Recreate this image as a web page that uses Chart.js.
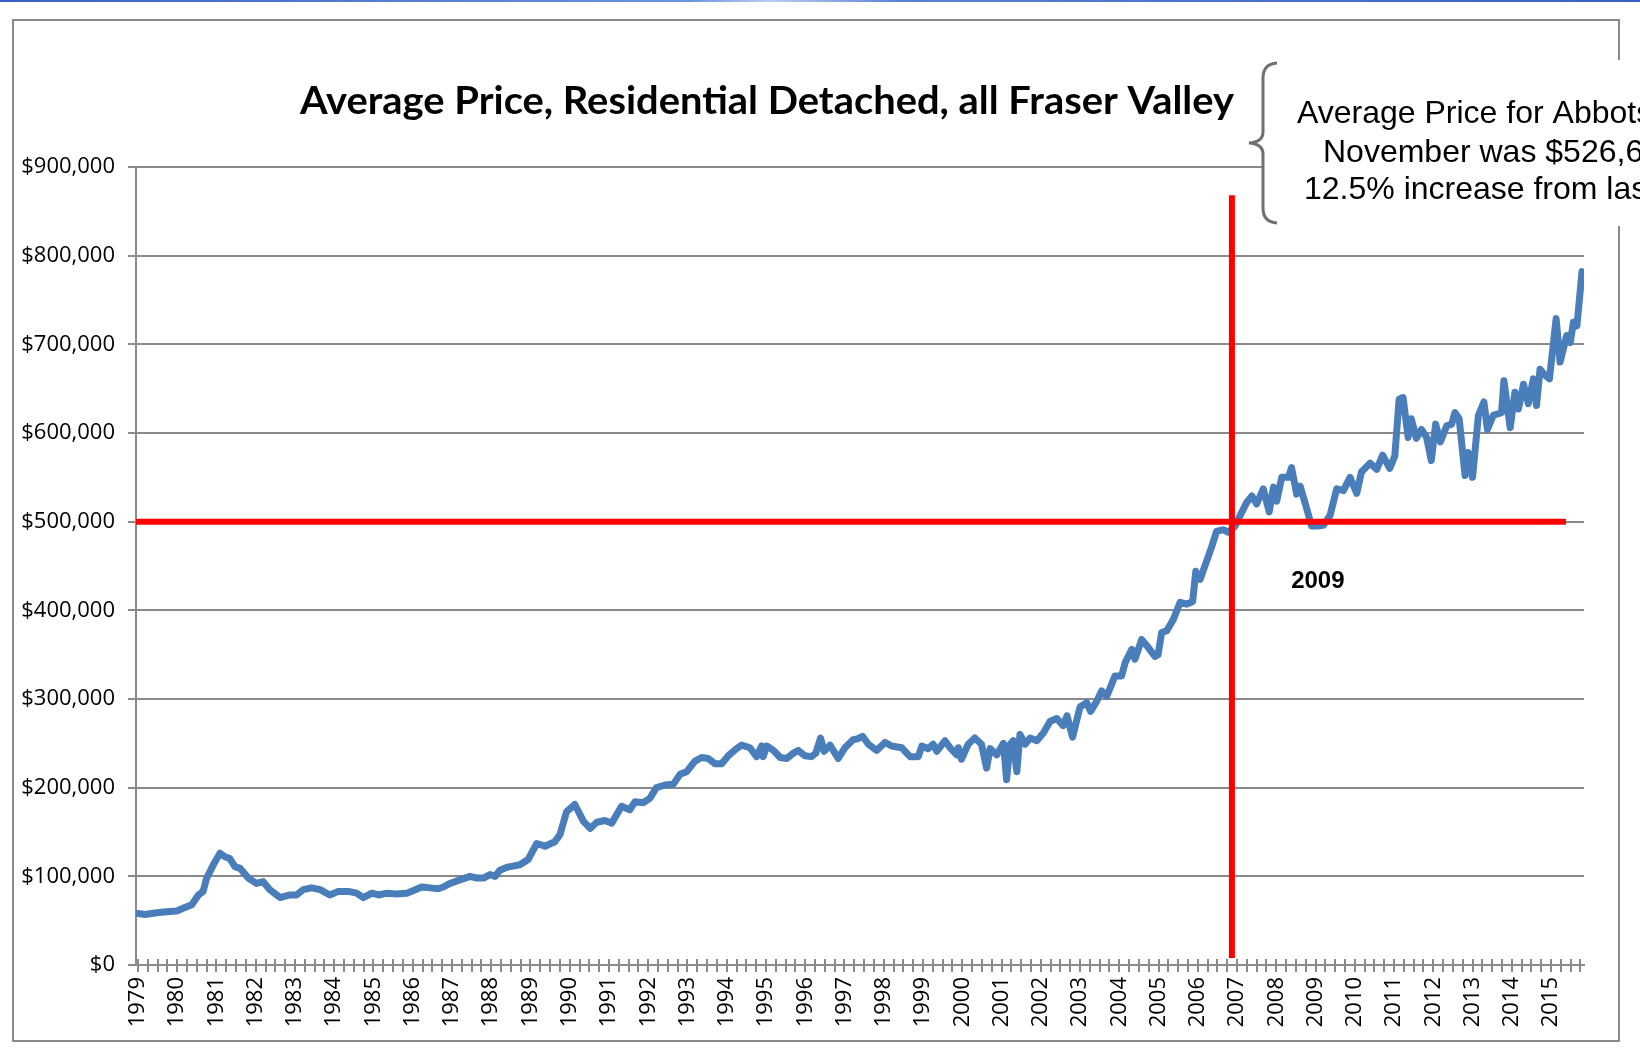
<!DOCTYPE html>
<html>
<head>
<meta charset="utf-8">
<script src="https://cdn.jsdelivr.net/npm/chart.js"></script>
<style>
html,body{margin:0;padding:0;background:#fff;}
#wrap{position:relative;width:1640px;height:1053px;}
</style>
</head>
<body>
<div id="wrap"><canvas id="chartPrice"></canvas></div>
<script>
// --- values (decimal year, price in $000) ---
const monthYear = [
  1979.00,1979.18,1979.48,1979.73,1979.99,1980.15,1980.37,1980.54,1980.66,1980.75,1980.92,
  1981.09,1981.22,1981.34,1981.47,1981.60,1981.81,1982.02,1982.19,1982.36,1982.62,1982.87,
  1983.04,1983.21,1983.42,1983.64,1983.89,1984.10,1984.36,1984.57,1984.74,1984.96,
  1985.13,1985.34,1985.59,1985.85,1986.02,1986.23,1986.44,1986.65,1986.78,1986.95,
  1987.20,1987.46,1987.63,1987.80,1987.97,1988.10,1988.22,1988.39,1988.48,1988.73,1988.94,
  1989.16,1989.37,1989.62,1989.75,1989.92,1990.13,1990.35,1990.52,1990.69,1990.90,
  1991.07,1991.32,1991.53,1991.66,1991.87,1992.04,1992.21,1992.43,1992.64,1992.81,1992.98,
  1993.19,1993.36,1993.53,1993.70,1993.87,1994.04,1994.25,1994.38,1994.59,1994.76,1994.89,1994.93,
  1995.02,1995.19,1995.36,1995.53,1995.70,1995.82,1995.99,1996.16,1996.27,1996.39,1996.48,1996.63,1996.84,
  1997.01,1997.22,1997.33,1997.46,1997.61,1997.82,1998.03,1998.20,1998.46,1998.67,1998.88,1998.97,
  1999.13,1999.26,1999.35,1999.56,1999.69,1999.86,1999.90,1999.98,2000.15,2000.32,2000.49,2000.62,2000.71,2000.88,
  2001.05,2001.13,2001.22,2001.30,2001.39,2001.47,2001.60,2001.73,2001.90,2002.07,2002.24,2002.41,2002.57,2002.67,2002.81,
  2003.00,2003.17,2003.27,2003.42,2003.55,2003.68,2003.89,2004.06,2004.15,2004.32,2004.40,2004.57,2004.74,2004.91,2004.99,
  2005.08,2005.21,2005.38,2005.55,2005.72,2005.87,2005.95,2006.06,2006.23,2006.35,2006.48,2006.65,2006.78,2006.95,
  2007.08,2007.25,2007.38,2007.50,2007.67,2007.82,2007.93,2008.01,2008.14,2008.31,2008.39,2008.52,2008.61,2008.78,2008.90,
  2009.03,2009.20,2009.37,2009.54,2009.71,2009.88,2010.05,2010.17,2010.39,2010.56,2010.71,2010.89,
  2011.02,2011.13,2011.23,2011.36,2011.44,2011.57,2011.70,2011.83,2011.95,2012.06,2012.18,2012.34,2012.47,2012.55,2012.66,2012.81,2012.89,
  2013.00,2013.15,2013.29,2013.38,2013.53,2013.74,2013.80,2013.96,2014.08,2014.17,2014.30,2014.42,2014.55,2014.63,2014.72,2014.85,2014.96,
  2015.13,2015.23,2015.40,2015.49,2015.57,2015.66,2015.79
];
const priceK = [
  58,57,59,60,61,64,68,79,83,98,113,
  126,122,120,111,109,98,92,94,85,76,79,
  79,85,87,85,79,83,83,81,76,81,
  79,81,80,81,84,88,87,86,88,92,
  96,100,98,98,102,100,107,110,111,113,119,
  137,134,139,147,173,181,162,154,161,163,
  160,179,175,184,183,188,200,203,204,215,218,
  230,234,233,227,227,236,244,248,245,235,247,235,
  247,242,234,233,239,242,236,235,239,256,241,248,233,
  245,254,255,258,249,242,251,247,245,235,235,247,
  244,249,241,253,245,237,245,232,249,256,249,222,244,237,
  250,209,249,253,218,260,249,256,253,262,275,278,270,281,257,
  291,296,286,297,309,303,326,326,341,356,345,367,358,348,350,
  375,377,390,409,407,410,444,435,456,471,489,491,488,495,
  507,522,529,520,537,511,539,523,550,550,561,531,540,514,495,
  495,496,507,537,535,550,532,556,566,559,575,560,
  574,638,640,595,616,594,604,595,569,610,590,608,610,623,616,552,578,
  550,620,635,604,620,623,659,606,646,627,655,633,661,631,672,665,661,
  729,680,710,702,725,721,782
];
const yTicks = [0,100000,200000,300000,400000,500000,600000,700000,800000,900000];
const yearLabels = [1979,1980,1981,1982,1983,1984,1985,1986,1987,1988,1989,1990,1991,1992,1993,1994,1995,1996,1997,
  1998,1999,2000,2001,2002,2003,2004,2005,2006,2007,2008,2009,2010,2011,2012,2013,2014,2015];
// red reference lines
const refPrice = 500000;
const refPriceSpan = [1978.95, 2015.38];
const refYear = 2006.87;
const refYearSpan = [8000, 868000];
// texts
const chartTitle = 'Average Price, Residential Detached, all Fraser Valley';
const noteLines = ['Average Price for Abbotsford', 'November was $526,6', '12.5% increase from last'];
const yearNote = '2009';
const yearNotePos = [2009.06, 433000];

const GRID = '#8a8a8a';

// quarterly tick marks, labels only on whole years
const quarterTicks = [];
yearLabels.forEach(y => { for (let q = 0; q < 4; q++) quarterTicks.push(y + q * 0.25); });

const priceSeries = monthYear.map((x, i) => ({x: x, y: priceK[i] * 1000}));

const decor = {
  id: 'decor',
  beforeDraw(chart) {
    const c = chart.ctx;
    c.save();
    c.fillStyle = '#fff';
    c.fillRect(0, 0, chart.width, chart.height);
    // thin blue rule along the very top
    const g = c.createLinearGradient(0, 0, chart.width, 0);
    g.addColorStop(0, '#3b5fc4'); g.addColorStop(0.42, '#6f92dc'); g.addColorStop(0.47, '#b8cdf0');
    g.addColorStop(0.55, '#5b80d4'); g.addColorStop(1, '#3b5fc4');
    c.fillStyle = g;
    c.fillRect(0, 0, chart.width, 2);
    // chart frame
    c.strokeStyle = GRID; c.lineWidth = 2;
    c.strokeRect(13, 20, 1606, 1021);
    // title (narrowed to the width of the original)
    c.font = 'bold 39px Lato';
    c.fillStyle = '#000';
    c.textAlign = 'center'; c.textBaseline = 'alphabetic';
    const w = c.measureText(chartTitle).width;
    c.translate(767, 114);
    c.scale(934 / w, 1);
    c.fillText(chartTitle, 0, 0);
    c.restore();
  },
  afterDraw(chart) {
    const c = chart.ctx;
    const xs = chart.scales.x, ys = chart.scales.y;
    c.save();
    // tick marks crossing the x axis
    c.strokeStyle = GRID; c.lineWidth = 2;
    const y0 = xs.top;
    xs.ticks.forEach(t => {
      const px = Math.round(xs.getPixelForValue(t.value));
      c.beginPath(); c.moveTo(px, y0 - 6); c.lineTo(px, y0 + 7); c.stroke();
    });
    // note box: white backing, brace, text
    c.fillStyle = '#fff';
    c.fillRect(1262, 60, 400, 166);
    c.strokeStyle = '#707070'; c.lineWidth = 3;
    c.beginPath();
    c.moveTo(1277, 63);
    c.quadraticCurveTo(1263, 64, 1263, 78);
    c.lineTo(1263, 132);
    c.quadraticCurveTo(1263, 142, 1249, 143);
    c.quadraticCurveTo(1263, 144, 1263, 154);
    c.lineTo(1263, 208);
    c.quadraticCurveTo(1263, 222, 1277, 223);
    c.stroke();
    c.fillStyle = '#000';
    c.font = '32px "Liberation Sans"';
    c.textAlign = 'left'; c.textBaseline = 'alphabetic';
    c.fillText(noteLines[0], 1297, 123);
    c.fillText(noteLines[1], 1323, 162);
    c.fillText(noteLines[2], 1304, 199);
    // 2009 label
    c.font = 'bold 24px "Liberation Sans"';
    c.textAlign = 'center'; c.textBaseline = 'middle';
    c.fillText(yearNote, xs.getPixelForValue(yearNotePos[0]), ys.getPixelForValue(yearNotePos[1]));
    c.restore();
  }
};

const ctx = document.getElementById('chartPrice').getContext('2d');
const tickFont = {family: '"Open Sans"', size: 22};

new Chart(ctx, {
  type: 'line',
  data: {
    datasets: [
      {label: 'ref price', data: refPriceSpan.map(x => ({x: x, y: refPrice})),
       borderColor: '#ff0000', borderWidth: 6, pointRadius: 0, order: 0, borderCapStyle: 'butt'},
      {label: 'ref year', data: refYearSpan.map(y => ({x: refYear, y: y})),
       borderColor: '#ff0000', borderWidth: 6, pointRadius: 0, order: 0, borderCapStyle: 'butt'},
      {label: 'Average price', data: priceSeries, borderColor: '#4a7ebb', borderWidth: 7,
       pointRadius: 0, tension: 0, order: 1, borderJoinStyle: 'round', borderCapStyle: 'round'}
    ]
  },
  options: {
    responsive: true, maintainAspectRatio: false, animation: false,
    layout: {padding: {left: 0, top: 167, right: 56, bottom: 0}},
    plugins: {legend: {display: false}, tooltip: {enabled: false}},
    scales: {
      x: {
        type: 'linear', min: 1978.95, max: 2015.84,
        afterBuildTicks: s => { s.ticks = quarterTicks.map(v => ({value: v})); },
        afterFit: s => { s.height = 88; },
        ticks: {autoSkip: false, minRotation: 90, maxRotation: 90, padding: 12, color: '#000', font: tickFont,
                callback: v => Number.isInteger(v) ? String(v) : ''},
        grid: {display: true, drawOnChartArea: false, drawTicks: false},
        border: {display: true, color: GRID, width: 2}
      },
      y: {
        min: 0, max: 900000,
        afterBuildTicks: s => { s.ticks = yTicks.map(v => ({value: v})); },
        afterFit: s => { s.width = 136; },
        ticks: {padding: 13, color: '#000', font: tickFont,
                callback: v => '$' + v.toLocaleString('en-US')},
        grid: {color: GRID, lineWidth: 2, tickLength: 8},
        border: {display: true, color: GRID, width: 2}
      }
    }
  },
  plugins: [decor]
});
</script>
</body>
</html>
